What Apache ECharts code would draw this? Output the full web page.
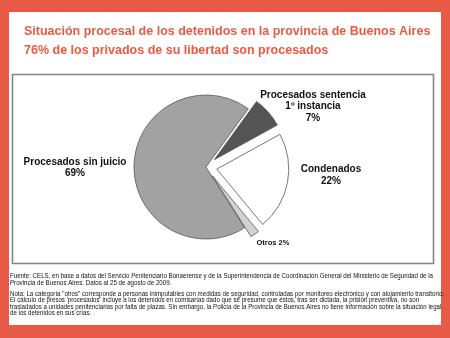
<!DOCTYPE html>
<html>
<head>
<meta charset="utf-8">
<script src="https://cdn.jsdelivr.net/npm/echarts@6/dist/echarts.min.js"></script>
<style>
html,body{margin:0;padding:0;background:#e65a46;}
#chart{width:450px;height:338px;}
</style>
</head>
<body>
<div id="chart"></div>
<script>
// Data (clockwise from the top-right edge of the big slice)
const categories = ['Procesados sentencia\n1º instancia', 'Condenados', 'Otros', 'Procesados sin juicio'];
const values = [7, 22, 2, 69];
const exploded = [true, true, true, false];
const sliceColors = ['#555555', '#ffffff', '#d2d2d2', '#a2a2a2'];

const titleLines = [
  'Situación procesal de los detenidos en la provincia de Buenos Aires',
  '76% de los privados de su libertad son procesados'
];
const sourceLines = [
  'Fuente: CELS, en base a datos del Servicio Penitenciario Bonaerense y de la Superintendencia de Coordinación General del Ministerio de Seguridad de la',
  'Provincia de Buenos Aires. Datos al 25 de agosto de 2009.'
];
const noteLines = [
  'Nota: La categoría "otros" corresponde a personas inimputables con medidas de seguridad, controladas por monitoreo electrónico y con alojamiento transitorio.',
  'El cálculo de presos \'procesados\' incluye a los detenidos en comisarías dado que se presume que éstos, tras ser dictada, la prisión preventiva, no son',
  'trasladados a unidades penitenciarias por falta de plazas. Sin embargo, la Policía de la Provincia de Buenos Aires no tiene información sobre la situación legal',
  'de los detenidos en sus crías.'
];

// label anchor points (centre of each label block)
const labelPos = [[313, 106.5], [331, 175], [273, 243], [75, 167.5]];

const chart = echarts.init(document.getElementById('chart'), null, {renderer: 'canvas'});
const smallFont = '"Liberation Sans", Arial, sans-serif';
const boldFont = 'Arial, "Liberation Sans", sans-serif';

// horizontal condensing factors so the long lines span the panel width
const mctx = document.createElement('canvas').getContext('2d');
mctx.font = '8px "Liberation Sans", Arial, sans-serif';
const srcScale = 423 / mctx.measureText(sourceLines[0]).width;
mctx.font = '7.8px "Liberation Sans", Arial, sans-serif';
const noteScale = 434 / mctx.measureText(noteLines[0]).width;

const sliceLabels = categories.map(function (c, i) {
  const small = (i === 2);
  return {
    type: 'text', x: labelPos[i][0], y: labelPos[i][1], z: 10, silent: true,
    style: {
      text: small ? c + ' ' + values[i] + '%' : c + '\n' + values[i] + '%',
      fill: '#111', fontFamily: boldFont, fontWeight: 'bold',
      fontSize: small ? 7.5 : 10, lineHeight: small ? 9 : 11.5,
      align: 'center', verticalAlign: 'middle'
    }
  };
});

const option = {
  animation: false,
  backgroundColor: '#e65a46',
  graphic: [
    {type: 'rect', shape: {x: 9, y: 12, width: 432, height: 313}, style: {fill: '#ffffff'}, z: 0, silent: true},
    {type: 'rect', shape: {x: 12.5, y: 74.5, width: 421, height: 189}, style: {fill: 'none', stroke: '#858585', lineWidth: 1.6}, z: 1, silent: true},
    {type: 'text', x: 24, y: 22.5, z: 5, style: {
      text: titleLines.join('\n'), fill: '#ea5a41', fontFamily: boldFont,
      fontWeight: 'bold', fontSize: 12.5, lineHeight: 19, verticalAlign: 'top'}},
    {type: 'text', x: 10, y: 272, scaleX: srcScale, z: 5, style: {
      text: sourceLines.join('\n'), fill: '#111', fontFamily: smallFont, fontSize: 8, lineHeight: 7, verticalAlign: 'top'}},
    {type: 'text', x: 10, y: 291, scaleX: noteScale, z: 5, style: {
      text: noteLines.join('\n'), fill: '#111', fontFamily: smallFont, fontSize: 7.8, lineHeight: 6.2, verticalAlign: 'top'}}
  ].concat(sliceLabels),
  series: [{
    type: 'pie',
    center: [206, 167],
    radius: 72,
    startAngle: 54,
    clockwise: true,
    selectedMode: 'multiple',
    selectedOffset: 11,
    avoidLabelOverlap: false,
    emphasis: {disabled: true},
    itemStyle: {borderColor: '#555', borderWidth: 0.8},
    label: {show: false},
    labelLine: {show: false},
    data: categories.map(function (c, i) {
      return {name: c, value: values[i], selected: exploded[i], itemStyle: {color: sliceColors[i]}};
    })
  }]
};
chart.setOption(option);
</script>
</body>
</html>
